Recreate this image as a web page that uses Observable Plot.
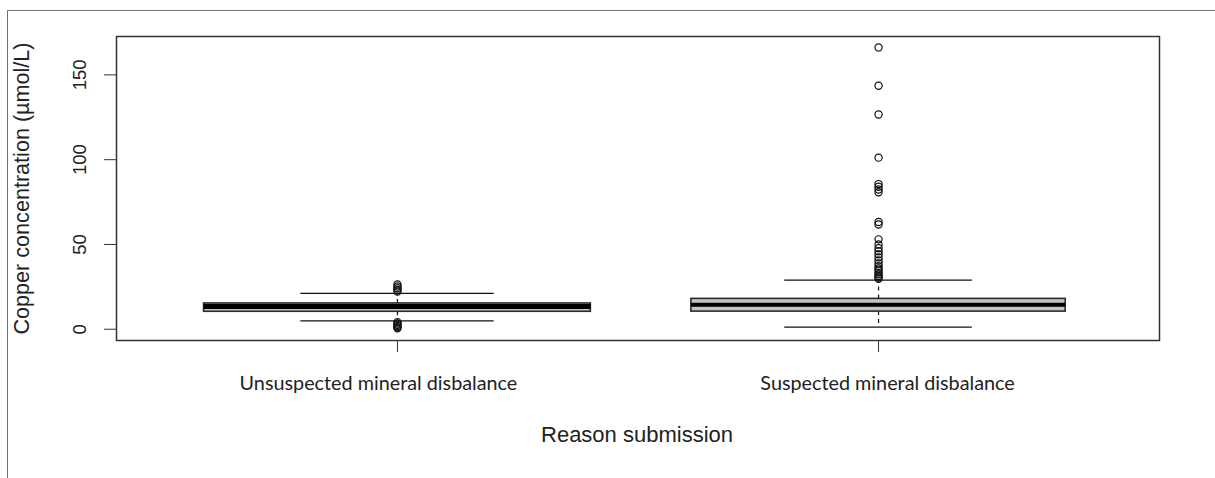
<!DOCTYPE html>
<html>
<head>
<meta charset="utf-8">
<script src="https://cdn.jsdelivr.net/npm/d3@7"></script>
<script src="https://cdn.jsdelivr.net/npm/@observablehq/plot@0.6"></script>
<style>
  html, body { margin: 0; padding: 0; background: #fff; }
  #wrap { position: relative; width: 1215px; height: 478px; overflow: hidden; background: #fff; }
  #frame { position: absolute; left: 7px; top: 10px; right: 0; bottom: -5px; border-top: 1px solid #707070; border-left: 1px solid #707070; pointer-events: none; }
  #chart { position: absolute; left: 0; top: 0; }
</style>
</head>
<body>
<div id="wrap"><div id="chart"></div><div id="frame"></div></div>
<script>
// ---- data ----
const categories = ["Unsuspected mineral disbalance", "Suspected mineral disbalance"];
const positions = [1, 2];
const q1 = [10.3, 10.4];
const median = [13.4, 14.4];
const q3 = [15.2, 17.9];
const whiskerLow = [4.9, 1.2];
const whiskerHigh = [21.2, 29.0];
const outliersUnsuspected = [22.2, 23.2, 24.2, 25.2, 26.4, 4.2, 3.4, 2.6, 1.9, 1.2, 0.6];
const outliersSuspected = [166.2, 143.6, 126.6, 101.2, 85.6, 84.0, 82.4, 80.8, 63.2, 61.8,
  53.0, 50.0, 47.8, 46.0, 44.2, 42.4, 40.6, 38.8, 37.2, 35.8, 34.6, 33.4, 32.4, 31.4, 30.6, 29.8];
const yTicks = [0, 50, 100, 150];
const xLabel = "Reason submission";
const yLabel = "Copper concentration (µmol/L)";

// ---- layout constants ----
const boxHalf = [0.402, 0.389];
const capHalf = [0.201, 0.195];
const medianWidth = [5, 4];

const boxes = categories.map((c, i) => ({
  cat: c, pos: positions[i], q1: q1[i], med: median[i], q3: q3[i],
  lo: whiskerLow[i], hi: whiskerHigh[i], bh: boxHalf[i], ch: capHalf[i], mw: medianWidth[i]
}));
const outliers = [
  ...outliersUnsuspected.map(v => ({pos: positions[0], v})),
  ...outliersSuspected.map(v => ({pos: positions[1], v}))
];

const sans = "'Liberation Sans', Arial, sans-serif";
const tickFont = "Lato, 'Open Sans', sans-serif";

const plot = Plot.plot({
  width: 1215,
  height: 478,
  marginLeft: 116,
  marginRight: 56,
  marginTop: 36,
  marginBottom: 138,
  style: {fontFamily: sans, background: "transparent", color: "#222"},
  x: {type: "linear", domain: [0.416, 2.584], axis: null},
  y: {type: "linear", domain: [-6.64, 172.64], axis: null},
  marks: [
    // whiskers (dashed)
    Plot.ruleX(boxes, {x: "pos", y1: "q3", y2: "hi", stroke: "#111", strokeWidth: 1.2, strokeDasharray: "4,4"}),
    Plot.ruleX(boxes, {x: "pos", y1: "q1", y2: "lo", stroke: "#111", strokeWidth: 1.2, strokeDasharray: "4,4"}),
    // caps
    Plot.ruleY(boxes, {y: "hi", x1: d => d.pos - d.ch, x2: d => d.pos + d.ch, stroke: "#111", strokeWidth: 1.3}),
    Plot.ruleY(boxes, {y: "lo", x1: d => d.pos - d.ch, x2: d => d.pos + d.ch, stroke: "#111", strokeWidth: 1.3}),
    // boxes
    Plot.rect(boxes, {x1: d => d.pos - d.bh, x2: d => d.pos + d.bh, y1: "q1", y2: "q3", fill: "#c4c4c4", stroke: "#2a2a2a", strokeWidth: 1.6}),
    // medians
    Plot.ruleY([boxes[0]], {y: "med", x1: d => d.pos - d.bh, x2: d => d.pos + d.bh, stroke: "#000", strokeWidth: medianWidth[0]}),
    Plot.ruleY([boxes[1]], {y: "med", x1: d => d.pos - d.bh, x2: d => d.pos + d.bh, stroke: "#000", strokeWidth: medianWidth[1]}),
    // outliers
    Plot.dot(outliers, {x: "pos", y: "v", r: 3.6, stroke: "#111", strokeWidth: 1.2, fill: "none"}),
    // frame
    Plot.frame({stroke: "#333", strokeWidth: 1.5}),
    // axes
    Plot.axisY({ticks: yTicks, tickSize: 12, tickFormat: () => "", stroke: "#333", label: null}),
    Plot.text(yTicks, {y: d => d, text: d => String(d), frameAnchor: "left", dx: -36, rotate: -90, textAnchor: "middle", lineAnchor: "middle", fontSize: 18.5, fill: "#222"}),
    Plot.axisX({ticks: positions, tickSize: 12, tickFormat: () => "", stroke: "#333", label: null}),
    Plot.text([categories[0]], {x: [positions[0]], text: d => d, frameAnchor: "bottom", dy: 43, dx: -19, lineAnchor: "middle", fontFamily: tickFont, fontSize: 19.8, fill: "#222"}),
    Plot.text([categories[1]], {x: [positions[1]], text: d => d, frameAnchor: "bottom", dy: 43, dx: 9, lineAnchor: "middle", fontFamily: tickFont, fontSize: 19.8, fill: "#222"}),
    Plot.text([xLabel], {frameAnchor: "bottom", dy: 94, dx: -1, lineAnchor: "middle", fontSize: 22, fill: "#222"}),
    Plot.text([yLabel], {frameAnchor: "left", dx: -94, rotate: -90, lineAnchor: "middle", textAnchor: "middle", fontSize: 21.6, fill: "#222"})
  ]
});
document.getElementById("chart").appendChild(plot);
</script>
</body>
</html>
